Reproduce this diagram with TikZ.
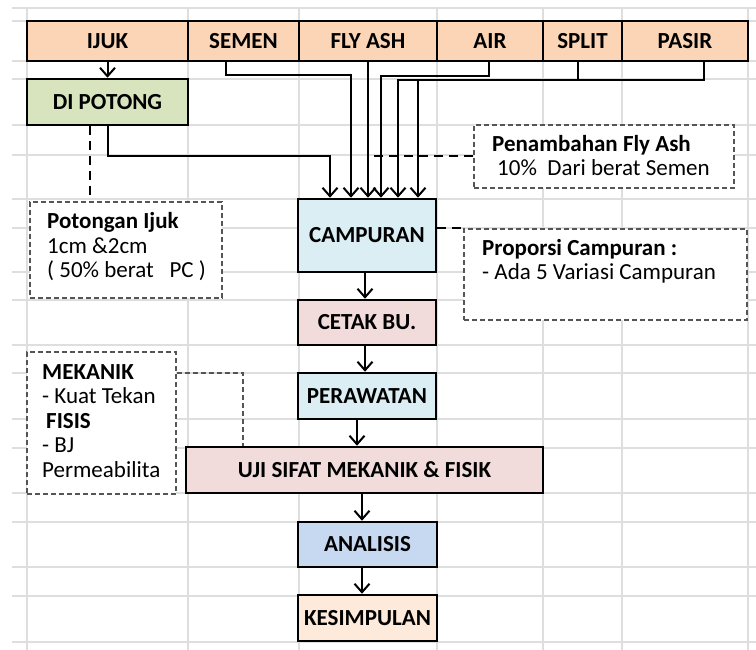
\documentclass[tikz,border=0pt]{standalone}
\usepackage{fontspec}
\setmainfont{Carlito}
\usetikzlibrary{arrows.meta}
\definecolor{peach}{HTML}{FBD5B5}
\definecolor{dpgreen}{HTML}{D7E4BD}
\definecolor{ltblue}{HTML}{DBEEF4}
\definecolor{ltpink}{HTML}{F2DCDB}
\definecolor{anblue}{HTML}{C6D9F1}
\definecolor{ltpeach}{HTML}{FDEADA}
\definecolor{gridc}{HTML}{DEDEDE}
\definecolor{dashc}{HTML}{555555}
\begin{document}
\begin{tikzpicture}[x=1pt,y=-1pt,
  box/.style={draw=black, line width=2.5pt, inner sep=0pt, font=\fontsize{23}{25}\selectfont\bfseries, text=black},
  notebox/.style={draw=dashc, line width=1.5pt, dash pattern=on 5pt off 3pt, fill=white, inner sep=0pt},
  notetext/.style={inner sep=0pt, align=left, font=\fontsize{23}{24.5}\selectfont, anchor=west},
  arr/.style={line width=2pt, -{Straight Barb[length=8.5pt,width=15pt]}},
  dconn/.style={line width=2pt, dash pattern=on 9pt off 6pt},
  thinconn/.style={draw=dashc, line width=1.5pt, dash pattern=on 5pt off 3pt},
  gridl/.style={draw=gridc, line width=1.2pt}]
\useasboundingbox (0,0) rectangle (756,650);
\fill[white] (0,0) rectangle (756,650);
\foreach \yy in {8,21,61,79,125,155,199,228,272,300,345,373,419,448,493,522,567,596,642}
  \draw[gridl] (12,\yy) -- (756,\yy);
\foreach \xx in {27,188,299,437,543,622,748}
  \draw[gridl] (\xx,8) -- (\xx,650);

% top row
\node[box, fill=peach, minimum width=161, minimum height=40] (ijuk) at (107.5,41) {IJUK};
\node[box, fill=peach, minimum width=111, minimum height=40] (semen) at (243.5,41) {SEMEN};
\node[box, fill=peach, minimum width=138, minimum height=40] (flyash) at (368,41) {FLY ASH};
\node[box, fill=peach, minimum width=106, minimum height=40] (air) at (490,41) {AIR};
\node[box, fill=peach, minimum width=79, minimum height=40] (split) at (582.5,41) {SPLIT};
\node[box, fill=peach, minimum width=126, minimum height=40] (pasir) at (685,41) {PASIR};

\node[box, fill=dpgreen, minimum width=161, minimum height=46] (dipotong) at (107.5,102) {DI POTONG};

% main column
\node[box, fill=ltblue, minimum width=138, minimum height=73] (campuran) at (367,235.5) {CAMPURAN};
\node[box, fill=ltpink, minimum width=138, minimum height=45] (cetak) at (367,322.5) {CETAK BU.};
\node[box, fill=ltblue, minimum width=138, minimum height=46] (perawatan) at (367,396) {PERAWATAN};
\node[box, fill=ltpink, minimum width=357, minimum height=46] (uji) at (364.5,470) {UJI SIFAT MEKANIK \& FISIK};
\node[box, fill=anblue, minimum width=139, minimum height=45] (analisis) at (367.5,544.5) {ANALISIS};
\node[box, fill=ltpeach, minimum width=139, minimum height=46] (kesimpulan) at (367.5,618) {KESIMPULAN};

% note boxes
\node[notebox, minimum width=192, minimum height=96] (potbox) at (126,250) {};
\node[notetext] (pottext) at (47,247) {\textbf{Potongan Ijuk}\\1cm \&2cm\\( 50\% berat\ \ \ PC )};
\node[notebox, minimum width=260, minimum height=63] (penbox) at (604,156.5) {};
\node[notetext] (pentext) at (492,155.5) {\textbf{Penambahan Fly Ash}\\\hspace*{5pt}10\%\ \ Dari berat Semen};
\node[notebox, minimum width=283, minimum height=91] (propbox) at (605.5,274.5) {};
\node[notetext] (proptext) at (482,261.5) {\textbf{Proporsi Campuran :}\\- Ada 5 Variasi Campuran};
\node[notebox, minimum width=149, minimum height=142] (mekbox) at (101.5,423) {};
\node[notetext] (mektext) at (42,421) {\textbf{MEKANIK}\\- Kuat Tekan\\\hspace*{4pt}\textbf{FISIS}\\- BJ\\Permeabilita};

% connectors into CAMPURAN
\draw[arr] (ijuk.south) -- (dipotong.north);
\draw[arr] (dipotong.south) -- ++(0,30) -| ([xshift=-37pt]campuran.north);
\draw[arr] ([xshift=-17.5pt]semen.south) -- ++(0,13) -| ([xshift=-16pt]campuran.north);
\draw[arr] (flyash.south) -- (flyash.south |- campuran.north);
\draw[arr] ([xshift=-1pt]air.south) -- ++(0,14) -| ([xshift=14pt]campuran.north);
\draw[arr] ([xshift=-4.5pt]split.south) -- ++(0,18) -| ([xshift=31pt]campuran.north);
\draw[arr] ([xshift=19pt]pasir.south) -- ++(0,18) -| ([xshift=51pt]campuran.north);

% main chain
\draw[arr] ([xshift=-2pt]campuran.south) -- ([xshift=-2pt]cetak.north);
\draw[arr] ([xshift=-2pt]cetak.south) -- ([xshift=-2pt]perawatan.north);
\draw[arr] ([xshift=-10pt]perawatan.south) -- ([xshift=-10pt]perawatan.south |- uji.north);
\draw[arr] ([xshift=-2.5pt]uji.south) -- ([xshift=-2.5pt]uji.south |- analisis.north);
\draw[arr] ([xshift=-5.5pt]analisis.south) -- ([xshift=-5.5pt]kesimpulan.north);

% dashed links
\draw[dconn] ([xshift=-17.5pt]dipotong.south) -- ([xshift=-17.5pt]dipotong.south |- potbox.north);
\draw[dconn] (penbox.west) -- (penbox.west -| flyash.south);
\draw[dconn] (campuran.east |- propbox.north) -- (propbox.north west);
\draw[thinconn] ([yshift=50pt]mekbox.east) -| ([xshift=-121.5pt]uji.north);
\end{tikzpicture}
\end{document}
